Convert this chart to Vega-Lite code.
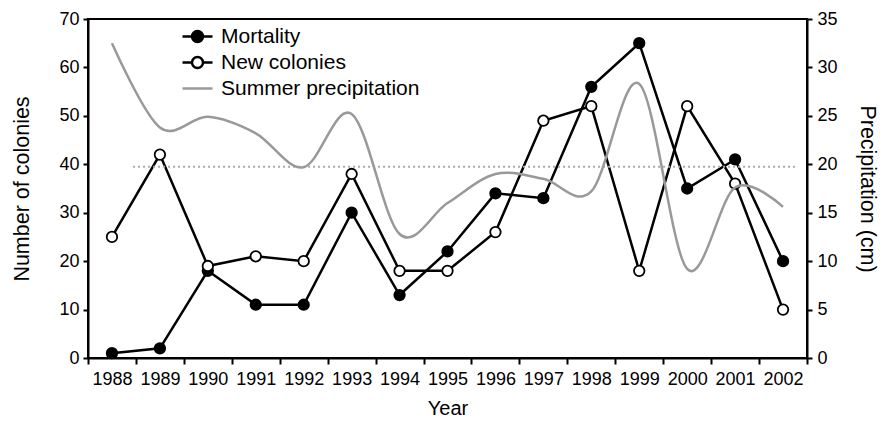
{
  "$schema": "https://vega.github.io/schema/vega-lite/v6.json",
  "width": 719,
  "height": 339,
  "autosize": {"type": "none"},
  "padding": {"left": 88, "top": 19, "right": 73, "bottom": 64},
  "config": {
    "font": "Liberation Sans",
    "view": {"stroke": "black", "strokeWidth": 2},
    "axis": {
      "domainColor": "black", "domainWidth": 2, "tickColor": "black", "tickWidth": 2, "tickSize": 6,
      "labelColor": "black", "labelFontSize": 18, "titleFontSize": 20, "titleFontWeight": "normal",
      "titleColor": "black", "grid": false
    }
  },
  "datasets": {
    "colonies": [
      {"year": "1988", "series": "Mortality", "value": 1},
      {"year": "1989", "series": "Mortality", "value": 2},
      {"year": "1990", "series": "Mortality", "value": 18},
      {"year": "1991", "series": "Mortality", "value": 11},
      {"year": "1992", "series": "Mortality", "value": 11},
      {"year": "1993", "series": "Mortality", "value": 30},
      {"year": "1994", "series": "Mortality", "value": 13},
      {"year": "1995", "series": "Mortality", "value": 22},
      {"year": "1996", "series": "Mortality", "value": 34},
      {"year": "1997", "series": "Mortality", "value": 33},
      {"year": "1998", "series": "Mortality", "value": 56},
      {"year": "1999", "series": "Mortality", "value": 65},
      {"year": "2000", "series": "Mortality", "value": 35},
      {"year": "2001", "series": "Mortality", "value": 41},
      {"year": "2002", "series": "Mortality", "value": 20},
      {"year": "1988", "series": "New colonies", "value": 25},
      {"year": "1989", "series": "New colonies", "value": 42},
      {"year": "1990", "series": "New colonies", "value": 19},
      {"year": "1991", "series": "New colonies", "value": 21},
      {"year": "1992", "series": "New colonies", "value": 20},
      {"year": "1993", "series": "New colonies", "value": 38},
      {"year": "1994", "series": "New colonies", "value": 18},
      {"year": "1995", "series": "New colonies", "value": 18},
      {"year": "1996", "series": "New colonies", "value": 26},
      {"year": "1997", "series": "New colonies", "value": 49},
      {"year": "1998", "series": "New colonies", "value": 52},
      {"year": "1999", "series": "New colonies", "value": 18},
      {"year": "2000", "series": "New colonies", "value": 52},
      {"year": "2001", "series": "New colonies", "value": 36},
      {"year": "2002", "series": "New colonies", "value": 10}
    ],
    "precip": [
      {"year": "1988", "series": "Summer precipitation", "value": 32.5},
      {"year": "1989", "series": "Summer precipitation", "value": 23.8},
      {"year": "1990", "series": "Summer precipitation", "value": 24.9},
      {"year": "1991", "series": "Summer precipitation", "value": 23.2},
      {"year": "1992", "series": "Summer precipitation", "value": 19.7},
      {"year": "1993", "series": "Summer precipitation", "value": 25.2},
      {"year": "1994", "series": "Summer precipitation", "value": 12.8},
      {"year": "1995", "series": "Summer precipitation", "value": 16.0},
      {"year": "1996", "series": "Summer precipitation", "value": 19.0},
      {"year": "1997", "series": "Summer precipitation", "value": 18.5},
      {"year": "1998", "series": "Summer precipitation", "value": 17.2},
      {"year": "1999", "series": "Summer precipitation", "value": 28.3},
      {"year": "2000", "series": "Summer precipitation", "value": 9.2},
      {"year": "2001", "series": "Summer precipitation", "value": 17.6},
      {"year": "2002", "series": "Summer precipitation", "value": 15.6}
    ],
    "mean": [
      {"start": "1988", "end": "2002", "value": 19.75}
    ]
  },
  "layer": [
    {
      "layer": [
        {
          "data": {"name": "colonies"},
          "mark": {"type": "line", "strokeWidth": 2.5},
          "encoding": {
            "x": {"field": "year", "type": "ordinal", "scale": {"type": "band", "paddingInner": 0, "paddingOuter": 0},
                  "axis": {"title": "Year", "labelAngle": 0, "tickBand": "extent", "labelPadding": 6, "titlePadding": 10}},
            "y": {"field": "value", "type": "quantitative", "scale": {"domain": [0, 70]},
                  "axis": {"title": "Number of colonies", "titleFontSize": 21.5, "values": [0, 10, 20, 30, 40, 50, 60, 70], "tickSize": 5, "labelPadding": 4, "titlePadding": 25}},
            "stroke": {"field": "series", "type": "nominal",
                       "scale": {"domain": ["Mortality", "New colonies", "Summer precipitation"], "range": ["black", "black", "#999999"]},
                       "legend": {
                         "title": null, "orient": "none", "legendX": 98, "legendY": 6, "padding": 0,
                         "labelFontSize": 21, "labelColor": "black", "labelLimit": 0, "symbolSize": 400, "symbolStrokeWidth": 2.5,
                         "rowPadding": 4, "labelOffset": 12,
                         "encode": {"symbols": {"update": {
                           "shape": {"signal": "datum.value === 'Mortality' ? 'M-1.5,0H1.5M0.55,0A0.55,0.55 0 1 1 -0.55,0A0.55,0.55 0 1 1 0.55,0' : datum.value === 'New colonies' ? 'M-1.5,0H-0.55M0.55,0H1.5M0.55,0A0.55,0.55 0 1 1 -0.55,0A0.55,0.55 0 1 1 0.55,0' : 'M-1.5,0H1.5'"},
                           "fill": {"signal": "datum.value === 'Mortality' ? 'black' : datum.value === 'New colonies' ? 'white' : 'transparent'"},
                           "fillOpacity": {"value": 1},
                           "strokeWidth": {"value": 2.5}
                         }}}
                       }},
            "detail": {"field": "series"}
          }
        },
        {
          "data": {"name": "colonies"},
          "mark": {"type": "point", "shape": "circle", "filled": true, "size": 110, "stroke": "black", "strokeWidth": 1.8, "opacity": 1},
          "encoding": {
            "x": {"field": "year", "type": "ordinal"},
            "y": {"field": "value", "type": "quantitative"},
            "fill": {"field": "series", "type": "nominal", "scale": {"domain": ["Mortality", "New colonies"], "range": ["black", "white"]}, "legend": null}
          }
        }
      ]
    },
    {
      "layer": [
        {
          "data": {"name": "mean"},
          "mark": {"type": "rule", "strokeWidth": 2, "strokeDash": [2, 3], "color": "#aaaaaa"},
          "encoding": {
            "x": {"field": "start", "type": "ordinal", "bandPosition": 0.94},
            "x2": {"field": "end", "bandPosition": 0.75},
            "y": {"field": "value", "type": "quantitative"}
          }
        },
        {
          "data": {"name": "precip"},
          "mark": {"type": "line", "strokeWidth": 2.5, "interpolate": "cardinal"},
          "encoding": {
            "x": {"field": "year", "type": "ordinal"},
            "y": {"field": "value", "type": "quantitative", "scale": {"domain": [0, 35]},
                  "axis": {"title": "Precipitation (cm)", "titleFontSize": 21.5, "orient": "right", "values": [0, 5, 10, 15, 20, 25, 30, 35], "tickSize": 5, "labelPadding": 5, "titlePadding": 18}},
            "stroke": {"field": "series", "type": "nominal"}
          }
        }
      ]
    }
  ],
  "resolve": {"scale": {"y": "independent"}}
}
